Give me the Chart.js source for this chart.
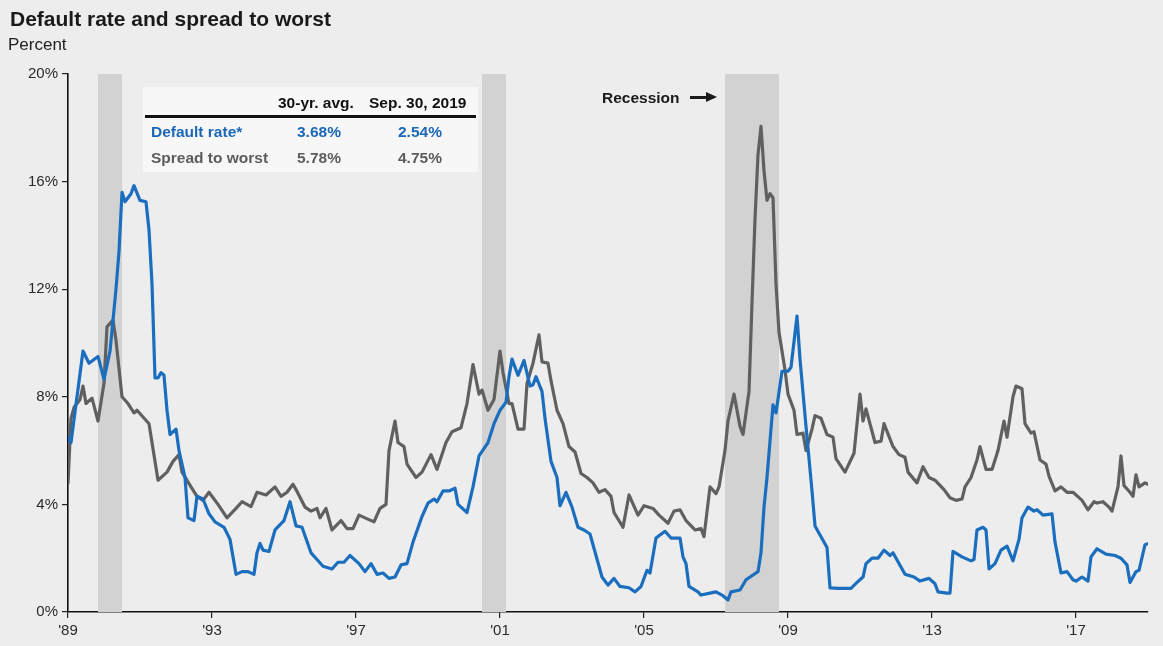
<!DOCTYPE html>
<html>
<head>
<meta charset="utf-8">
<script src="https://cdn.jsdelivr.net/npm/chart.js@4/dist/chart.umd.min.js"></script>
<style>
  html, body { margin: 0; padding: 0; background: #ededed; }
  #wrap { position: relative; width: 1163px; height: 646px; overflow: hidden;
          font-family: "Liberation Sans", Arial, sans-serif; }
  #c { position: absolute; left: 0; top: 0; }
  .abs { position: absolute; white-space: nowrap; line-height: 1; }
  #title { left: 10px; top: 8px; font-size: 21px; font-weight: bold; color: #1a1a1a; }
  #unit { left: 8px; top: 36px; font-size: 17px; color: #222; }
  #tbl { position: absolute; left: 143px; top: 87px; width: 335px; height: 85px; background: rgba(255,255,255,0.55); }
  #tbl .abs { font-size: 15.5px; font-weight: bold; }
  #rule { position: absolute; left: 2px; top: 28px; width: 331px; height: 2.5px; background: #111; }
  .hd { color: #111; }
  .blue { color: #1b67b8; }
  .grey { color: #5c5c5c; }
  #rec { left: 602px; top: 90px; font-size: 15.5px; font-weight: bold; color: #1a1a1a; }
  #arrowShaft { position: absolute; left: 690px; top: 96px; width: 19px; height: 2.5px; background: #1a1a1a; }
  #arrowHead { position: absolute; left: 706px; top: 92px; width: 0; height: 0;
               border-top: 5.25px solid transparent; border-bottom: 5.25px solid transparent;
               border-left: 11px solid #1a1a1a; }
</style>
</head>
<body>
<div id="wrap">
  <canvas id="c" width="1163" height="646"></canvas>
  <div id="title" class="abs">Default rate and spread to worst</div>
  <div id="unit" class="abs">Percent</div>
  <div id="tbl">
    <div class="abs hd" style="left:135px;top:8px">30-yr. avg.</div>
    <div class="abs hd" style="left:226px;top:8px">Sep. 30, 2019</div>
    <div id="rule"></div>
    <div class="abs blue" style="left:8px;top:37px">Default rate*</div>
    <div class="abs blue" style="left:154px;top:37px">3.68%</div>
    <div class="abs blue" style="left:255px;top:37px">2.54%</div>
    <div class="abs grey" style="left:8px;top:63px">Spread to worst</div>
    <div class="abs grey" style="left:154px;top:63px">5.78%</div>
    <div class="abs grey" style="left:255px;top:63px">4.75%</div>
  </div>
  <div id="rec" class="abs">Recession</div>
  <div id="arrowShaft"></div>
  <div id="arrowHead"></div>
</div>
<script>
// Months counted from Sep. 1989 (0) to Sep. 2019 (360)
const tickMonths = [0, 48, 96, 144, 192, 240, 288, 336];
const tickLabels = ["'89", "'93", "'97", "'01", "'05", "'09", "'13", "'17"];

// Recession periods (start / end month)
const recessionStart = [10, 138, 219];
const recessionEnd = [18, 146, 237];

// Default rate (%)
const defaultMonths = [0,1,3,5,7,10,12,14,16,17,18,19,21,22,24,26,27,28,29,30,31,32,33,34,36,37,39,40,42,43,45,47,49,52,54,56,58,60,62,63,64,65,67,69,72,74,76,78,81,83,85,88,90,92,94,97,99,101,103,105,107,109,111,113,115,118,120,122,123,125,127,129,130,133,135,137,140,142,144,146,147,148,150,152,154,155,156,158,159,161,163,164,166,168,170,172,174,176,178,180,182,184,187,189,191,193,194,196,199,201,204,205,206,207,210,211,214,216,218,220,221,224,226,230,231,232,233,235,236,238,240,241,243,244,246,248,249,251,253,254,257,261,263,265,266,268,270,272,274,275,277,279,282,284,287,289,290,293,294,295,298,301,302,303,305,306,307,309,311,313,315,317,318,319,320,322,323,325,328,329,331,333,335,336,338,340,341,343,346,349,351,353,354,356,357,359,360];
const defaultRate = [6.5,6.3,8.0,9.7,9.25,9.5,8.65,9.7,12.0,13.4,15.6,15.25,15.55,15.85,15.3,15.25,14.2,12.2,8.7,8.7,8.9,8.8,7.5,6.6,6.8,6.0,5.0,3.5,3.4,4.3,4.2,3.65,3.35,3.15,2.7,1.4,1.5,1.5,1.4,2.2,2.55,2.3,2.25,3.05,3.4,4.1,3.2,3.15,2.2,1.95,1.7,1.6,1.85,1.85,2.1,1.8,1.5,1.8,1.4,1.45,1.25,1.3,1.75,1.8,2.6,3.55,4.05,4.2,4.1,4.5,4.5,4.6,4.0,3.7,4.65,5.8,6.3,7.0,7.5,7.8,8.75,9.4,8.8,9.35,8.4,8.45,8.75,8.2,7.2,5.6,5.0,3.95,4.45,3.9,3.15,3.05,2.9,2.1,1.3,1.0,1.25,0.95,0.9,0.75,0.95,1.55,1.45,2.75,3.0,2.75,2.75,2.05,1.8,0.95,0.75,0.63,0.7,0.75,0.63,0.45,0.75,0.82,1.2,1.5,2.2,3.9,5.0,7.7,7.4,8.95,8.95,9.1,11.0,9.4,6.9,4.5,3.2,2.8,2.4,0.9,0.88,0.88,1.1,1.3,1.8,2.0,2.0,2.3,2.1,2.2,1.8,1.4,1.3,1.15,1.25,1.05,0.75,0.7,0.7,2.25,2.05,1.9,1.95,3.05,3.15,3.05,1.6,1.8,2.3,2.45,1.9,2.7,3.5,3.7,3.9,3.75,3.8,3.6,3.65,2.6,1.45,1.5,1.2,1.15,1.3,1.15,2.05,2.35,2.15,2.1,2.0,1.75,1.1,1.5,1.55,2.5,2.54];

// Spread to worst (%)
const spreadMonths = [0,1,2,4,5,6,8,10,12,13,15,16,18,20,22,23,25,27,28,30,33,35,37,38,41,43,45,47,50,53,56,58,61,63,66,69,71,73,75,76,79,81,83,84,86,88,91,93,95,97,99,102,104,106,107,109,110,112,113,116,118,121,123,126,128,131,133,135,137,138,140,142,144,145,147,148,150,152,153,155,157,158,160,161,163,165,167,169,171,173,175,177,179,181,182,185,187,190,192,195,197,200,202,204,206,209,211,212,214,216,217,219,220,222,224,225,227,228,229,230,231,232,233,234,235,236,237,239,240,242,243,245,246,248,249,251,253,255,256,259,262,264,265,266,269,271,272,275,277,279,280,283,285,287,289,292,294,296,298,299,301,303,304,306,308,310,312,313,315,316,318,319,321,322,324,326,327,329,331,333,335,337,338,340,342,343,345,347,348,350,351,352,354,355,356,357,359,360];
const spreadToWorst = [4.8,7.2,7.6,7.9,8.4,7.75,7.95,7.1,8.5,10.6,10.85,10.1,8.0,7.75,7.4,7.5,7.25,7.0,6.3,4.9,5.2,5.6,5.85,5.2,4.65,4.3,4.15,4.45,4.0,3.5,3.85,4.1,3.92,4.45,4.35,4.65,4.3,4.45,4.75,4.55,3.9,3.75,3.85,3.5,3.85,3.05,3.4,3.1,3.1,3.6,3.5,3.35,3.85,4.0,6.0,7.1,6.3,6.15,5.5,5.0,5.2,5.85,5.3,6.3,6.7,6.85,7.75,9.2,8.1,8.25,7.5,7.9,9.7,8.9,7.75,7.75,6.8,6.8,8.5,9.25,10.3,9.3,9.25,8.6,7.5,7.0,6.15,5.95,5.15,5.0,4.8,4.45,4.55,4.3,3.7,3.15,4.35,3.6,3.95,3.85,3.6,3.3,3.75,3.8,3.4,3.05,3.1,2.8,4.65,4.4,4.65,6.0,7.1,8.1,6.9,6.6,8.2,11.5,14.6,17.0,18.05,16.4,15.3,15.55,15.4,12.2,10.4,9.0,8.1,7.5,6.6,6.65,6.0,6.8,7.3,7.2,6.6,6.5,5.7,5.2,5.9,8.1,7.1,7.55,6.3,6.35,7.0,6.15,5.85,5.75,5.2,4.8,5.4,5.0,4.9,4.55,4.25,4.15,4.2,4.65,5.0,5.65,6.15,5.3,5.3,6.0,7.1,6.5,8.0,8.4,8.3,7.0,6.65,6.7,5.65,5.5,5.05,4.5,4.65,4.45,4.45,4.25,4.15,3.8,4.1,4.05,4.1,3.9,3.75,4.65,5.8,4.7,4.45,4.3,5.1,4.65,4.8,4.75];

const toPoints = (xs, ys) => xs.map((x, i) => ({ x: x, y: ys[i] }));

// Shaded recession bands behind the lines
const recessionBands = {
  id: 'recessionBands',
  beforeDatasetsDraw(chart) {
    const { ctx, chartArea, scales } = chart;
    ctx.save();
    ctx.fillStyle = '#d2d2d2';
    recessionStart.forEach((s, i) => {
      const x0 = scales.x.getPixelForValue(s);
      const x1 = scales.x.getPixelForValue(recessionEnd[i]);
      ctx.fillRect(x0, chartArea.top, x1 - x0, chartArea.bottom - chartArea.top);
    });
    ctx.restore();
  }
};

const tickFont = { family: '"Liberation Sans", Arial, sans-serif', size: 15 };

new Chart(document.getElementById('c'), {
  type: 'line',
  data: {
    datasets: [
      { label: 'Default rate*', data: toPoints(defaultMonths, defaultRate),
        borderColor: '#1b6ebe', borderWidth: 3.2, pointRadius: 0, tension: 0,
        borderJoinStyle: 'round', borderCapStyle: 'round' },
      { label: 'Spread to worst', data: toPoints(spreadMonths, spreadToWorst),
        borderColor: '#606060', borderWidth: 3.2, pointRadius: 0, tension: 0,
        borderJoinStyle: 'round', borderCapStyle: 'round' }
    ]
  },
  options: {
    responsive: false,
    devicePixelRatio: 1,
    animation: false,
    layout: { padding: { top: 74, right: 15, left: 0, bottom: 0 } },
    plugins: { legend: { display: false }, tooltip: { enabled: false } },
    scales: {
      x: {
        type: 'linear', min: 0, max: 360,
        afterBuildTicks(scale) { scale.ticks = tickMonths.map(v => ({ value: v })); },
        afterFit(scale) { scale.height = 34; },
        ticks: {
          font: tickFont, color: '#2a2a2a', padding: 4, maxRotation: 0, autoSkip: false,
          callback: (v) => tickLabels[tickMonths.indexOf(v)]
        },
        grid: { display: true, drawOnChartArea: false, drawTicks: true, tickLength: 6, color: '#222', lineWidth: 1.2 },
        border: { display: true, color: '#111', width: 1.6 }
      },
      y: {
        min: 0, max: 20,
        afterFit(scale) { scale.width = 68; },
        ticks: { stepSize: 4, font: tickFont, color: '#2a2a2a', padding: 4, callback: (v) => v + '%' },
        grid: { display: true, drawOnChartArea: false, drawTicks: true, tickLength: 6, color: '#222', lineWidth: 1.2 },
        border: { display: true, color: '#111', width: 1.6 }
      }
    }
  },
  plugins: [recessionBands]
});
</script>
</body>
</html>
